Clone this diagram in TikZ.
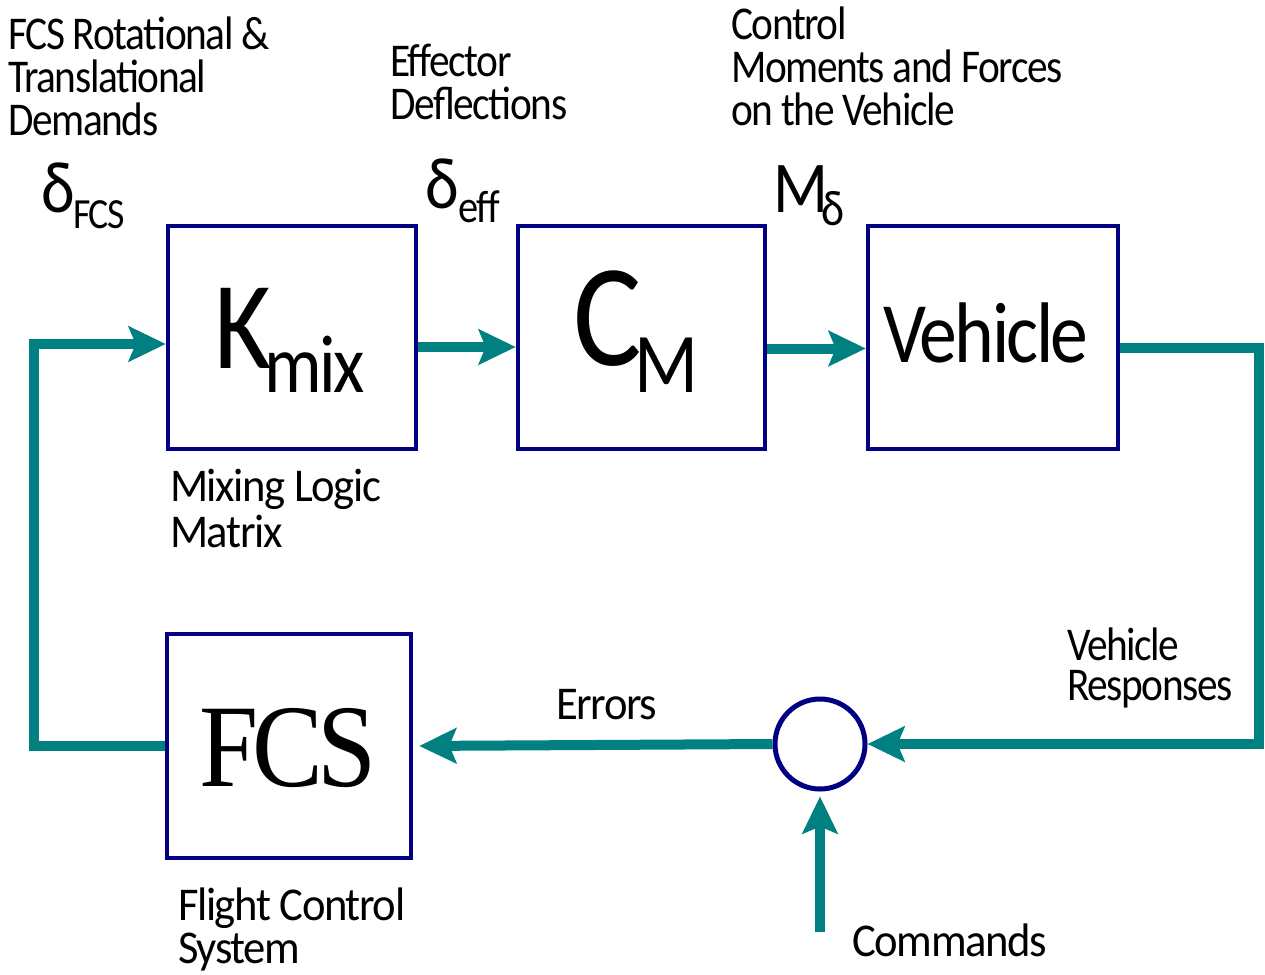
\documentclass[tikz,border=0pt]{standalone}
\usepackage{fontspec}
\setmainfont{Carlito}[FakeStretch=0.88, LetterSpace=-3]
\newfontfamily\labf{Carlito}[FakeStretch=0.95, LetterSpace=-3]
\newfontfamily\labn{Carlito}[FakeStretch=0.88, LetterSpace=-3]
\newfontfamily\serifb{Liberation Serif}[FakeStretch=0.9, LetterSpace=-5]
\usetikzlibrary{arrows.meta}
\definecolor{teal}{HTML}{008080}
\definecolor{navyb}{HTML}{000080}
\tikzset{
  blk/.style={draw=navyb, line width=4.5pt, inner sep=0pt, fill=white},
  flow/.style={draw=teal, line width=10pt, -{Stealth[length=37pt, width=35pt, inset=7pt]}},
  lbl/.style={anchor=base west, inner sep=0pt, align=left, font=\labf\fontsize{47}{43}\selectfont},
  lbn/.style={anchor=base west, inner sep=0pt, align=left, font=\labn\fontsize{47}{43}\selectfont},
  txt/.style={anchor=base west, inner sep=0pt},
}
\begin{document}
\begin{tikzpicture}[x=1pt, y=-1pt]
\useasboundingbox (0,0) rectangle (1265,974);
% boxes
\node[blk, minimum width=248pt, minimum height=223pt] (kmix) at (292,337.5) {};
\node[blk, minimum width=247pt, minimum height=223pt] (cm) at (641.5,337.5) {};
\node[blk, minimum width=250pt, minimum height=223pt] (veh) at (993,337.5) {};
\node[blk, minimum width=244pt, minimum height=224pt] (fcs) at (289,746) {};
\node[draw=navyb, line width=5pt, circle, minimum size=90pt, inner sep=0pt] (sum) at (820,744) {};
% coordinates
\coordinate (lc) at (34,344);
\coordinate (rc) at (1259,348);
\coordinate (cmd) at (820,932);
% connectors
\draw[flow] (fcs.west) -| (lc) -- (lc -| kmix.west);
\draw[flow] ([yshift=-9.5pt]kmix.east) -- ([yshift=-9.5pt]cm.west);
\draw[flow] ([yshift=-11pt]cm.east) -- ([yshift=-11pt]veh.west);
\draw[flow] ([yshift=-10.5pt]veh.east) -- (rc) |- (sum.east);
\draw[flow, shorten >=6pt] (sum.west) -- (fcs.east);
\draw[flow, shorten >=5pt] (cmd) -- (sum.south);
% box texts
\node[txt, font=\fontsize{125}{125}\selectfont] (ktxt) at (214,368) {K};
\node[txt, font=\fontsize{82}{82}\selectfont] (mixtxt) at (264,392) {mix};
\node[txt, font=\fontsize{146}{146}\selectfont] (ctxt) at (573,365) {C};
\node[txt, font=\fontsize{85}{85}\selectfont] (mtxt) at (634,392) {M};
\node[txt, font=\fontsize{86}{86}\selectfont] (vtxt) at (883,362) {Vehicle};
\node[txt, font=\serifb\fontsize{118}{118}\selectfont] (fcstxt) at (199,786) {FCS};
% symbol labels
\node[txt, font=\fontsize{73}{73}\selectfont] (d1) at (41,212) {δ};
\node[txt, font=\fontsize{43}{43}\selectfont] (d1s) at (73,228) {FCS};
\node[txt, font=\fontsize{73}{73}\selectfont] (d2) at (425,208) {δ};
\node[txt, font=\fontsize{46}{46}\selectfont] (d2s) at (458,222) {eff};
\node[txt, font=\fontsize{73}{73}\selectfont] (m1) at (773,212) {M};
\node[txt, font=\fontsize{50}{50}\selectfont] (m1s) at (821,225) {δ};
% labels (anchor = baseline of last line)
\node[lbn] (tl) at (8,135) {FCS Rotational \&\\Translational\\Demands};
\node[lbn] (effl) at (390,119) {Effector\\Deflections};
\node[lbn] (ctl) at (731,125) {Control\\Moments and Forces\\on the Vehicle};
\node[lbl, font=\labf\fontsize{47}{46}\selectfont] (mlm) at (170,547) {Mixing Logic\\Matrix};
\node[lbl] (fcl) at (178,963) {Flight Control\\System};
\node[lbl] (err) at (556,719) {Errors};
\node[lbn, font=\labn\fontsize{47}{40}\selectfont] (vr) at (1067,700) {Vehicle\\Responses};
\node[lbl] (cmdl) at (852,956) {Commands};
\end{tikzpicture}
\end{document}
